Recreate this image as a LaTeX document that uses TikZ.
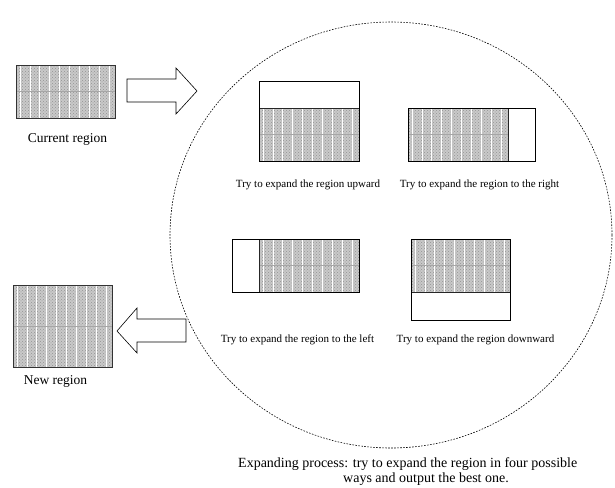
\documentclass[tikz,border=0pt]{standalone}
\usepackage{fontspec}
\setmainfont{Liberation Serif}
\usetikzlibrary{patterns,shapes.geometric}

\tikzset{
  patbg/.style={fill=gray!42},
  stripe/.style={draw=white, line width=0.7pt},
  midline/.style={draw=gray!70, line width=0.5pt},
  outerbox/.style={draw=black, line width=0.9pt, inner sep=0pt},
  regionbox/.style={draw=gray!40!black, line width=0.7pt, inner sep=0pt},
  divider/.style={draw=gray!30!black, line width=0.8pt},
  bigarrow/.style={draw=black, line width=0.6pt, fill=white, line join=miter},
  procring/.style={ellipse, draw=black, line width=0.6pt, dash pattern=on 1.6pt off 1.4pt, inner sep=0pt},
  lbl/.style={font=\fontsize{11}{13}\selectfont, inner sep=0pt, anchor=base},
  biglbl/.style={font=\fontsize{13.5}{16}\selectfont, inner sep=0pt, anchor=base},
  caplbl/.style={font=\fontsize{14}{16}\selectfont, inner sep=0pt, anchor=base west}
}

\newcommand{\patfill}[4]{%
  \begin{scope}
    \clip (#1,#2) rectangle (#3,#4);
    \fill[patbg] (#1,#2) rectangle (#3,#4);
    \fill[pattern=crosshatch dots, pattern color=gray!85] (#1,#2) rectangle (#3,#4);
    \foreach \k in {0,...,12}{\draw[stripe] ({#1+4+\k*9.9},#2) -- ({#1+4+\k*9.9},#4);}
    \draw[midline] (#1,{(#2+#4)/2}) -- (#3,{(#2+#4)/2});
  \end{scope}}

\begin{document}
\begin{tikzpicture}[x=1pt,y=-1pt]
\useasboundingbox (0,0) rectangle (615,487);
\fill[white] (0,0) rectangle (615,487);

% process ring
\node[procring, minimum width=442pt, minimum height=426pt] (proc) at (391,235) {};

% current region
\patfill{16}{65}{115}{118}
\node[regionbox, minimum width=99pt, minimum height=53pt] (cur) at (65.5,91.5) {};
\node[biglbl] (curlbl) at (67.5,142) {Current region};

% new region
\patfill{13}{285}{112}{367}
\node[regionbox, minimum width=99pt, minimum height=82pt] (new) at (62.5,326) {};
\node[biglbl] (newlbl) at (55.5,384) {New region};

% arrows
\draw[bigarrow] (127,79) -- (176,79) -- (176,68) -- (197,91) -- (176,114) -- (176,102) -- (127,102) -- cycle;
\draw[bigarrow] (186,319) -- (137,319) -- (137,308) -- (117,331) -- (137,353) -- (137,342) -- (186,342) -- cycle;

% upward
\patfill{259}{108}{359}{161}
\draw[divider] (259,108) -- (359,108);
\node[outerbox, minimum width=100pt, minimum height=80pt] (up) at (309,121) {};
\node[lbl] (uplbl) at (308,187) {Try to expand the region upward};

% right
\patfill{408}{108}{508}{161}
\draw[divider] (508,108) -- (508,161);
\node[outerbox, minimum width=127pt, minimum height=53pt] (right) at (471.5,134.5) {};
\node[lbl] (rightlbl) at (479.5,187) {Try to expand the region to the right};

% left
\patfill{259}{239}{359}{292}
\draw[divider] (259,239) -- (259,292);
\node[outerbox, minimum width=127pt, minimum height=53pt] (left) at (295.5,265.5) {};
\node[lbl] (leftlbl) at (297.5,342) {Try to expand the region to the left};

% downward
\patfill{411}{239}{510}{292}
\draw[divider] (411,292) -- (510,292);
\node[outerbox, minimum width=99pt, minimum height=81pt] (down) at (460.5,279.5) {};
\node[lbl] (downlbl) at (475.5,342) {Try to expand the region downward};

% caption
\node[caplbl] (cap1) at (238,467) {Expanding process: try to expand the region in four possible};
\node[caplbl] (cap2) at (343,482) {ways and output the best one.};
\end{tikzpicture}
\end{document}
